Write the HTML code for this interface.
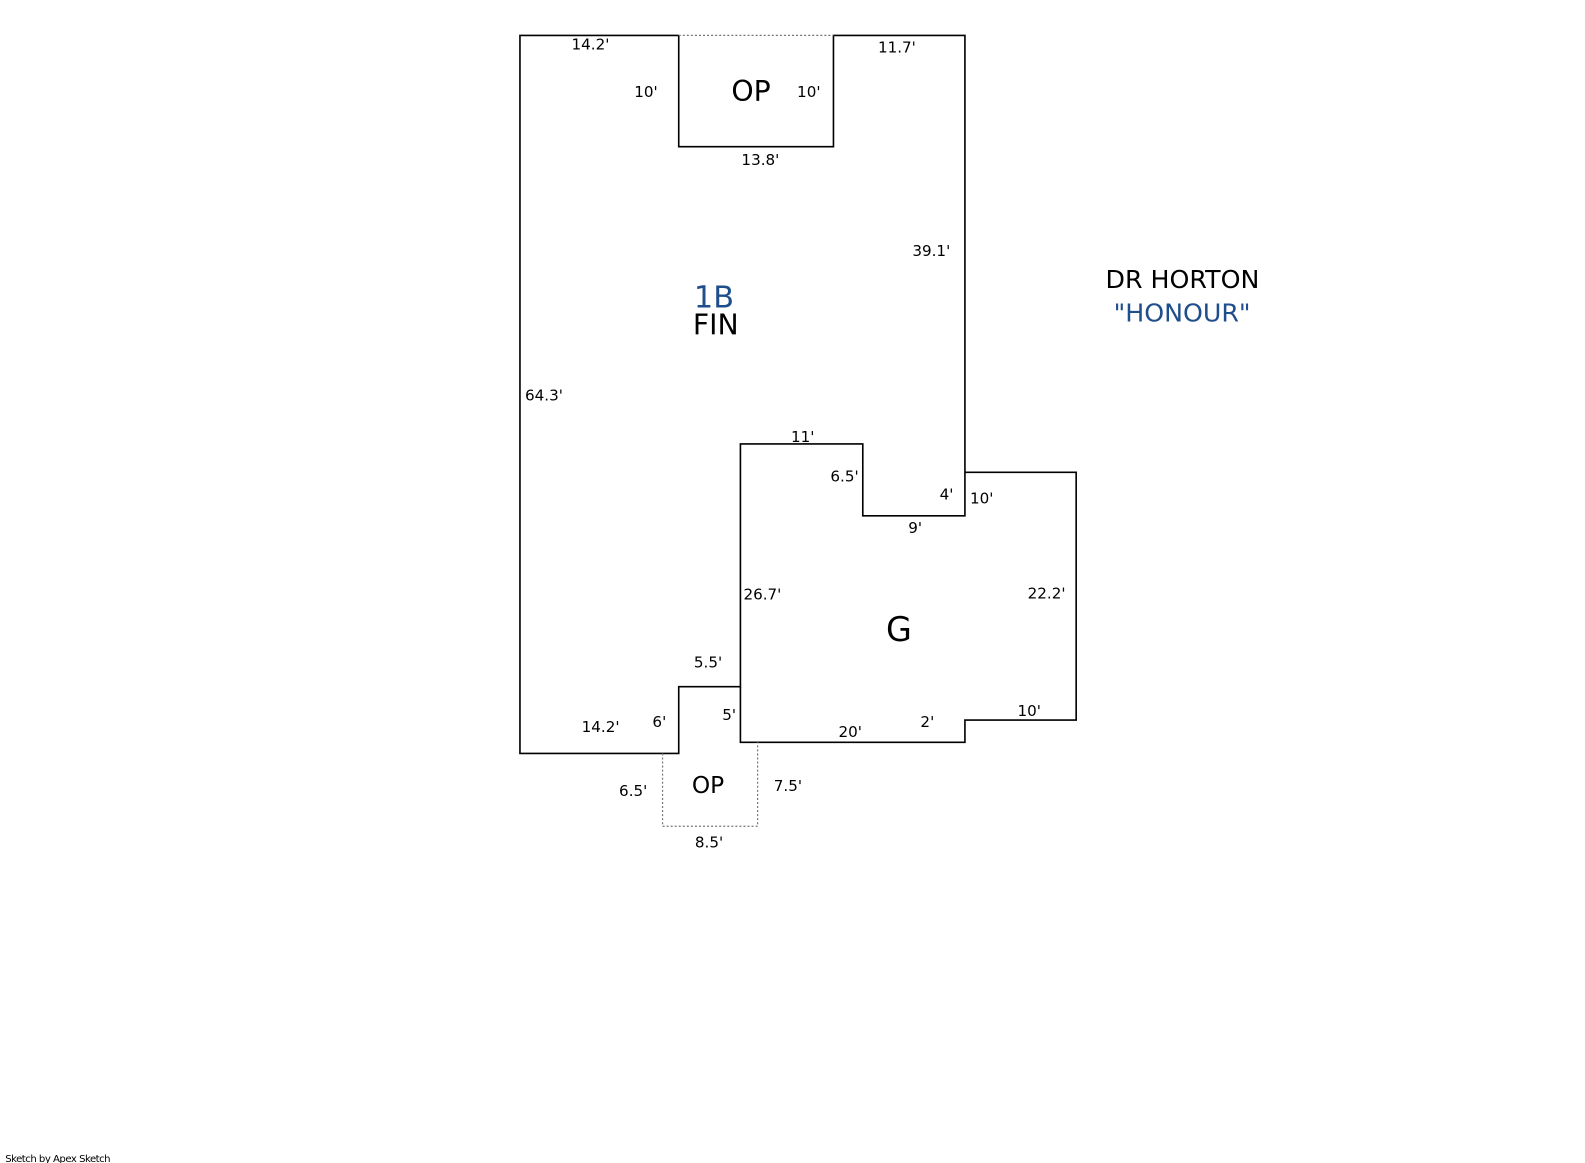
<!DOCTYPE html>
<html><head><meta charset="utf-8"><style>
html,body{margin:0;padding:0;background:#fff;overflow:hidden;}
svg{display:block;}
text{font-family:"DejaVu Sans","Liberation Sans",sans-serif;fill:#000;}
</style></head><body>
<svg width="1585" height="1163" viewBox="0 0 1567 1150" xmlns="http://www.w3.org/2000/svg">
<g fill="none" stroke="#000" stroke-width="1.6">
<polyline points="671,35 514,35 514,745 671,745 671,679 732,679 732,439 853,439 853,510 954,510 954,35 824,35 824,145 671,145 671,35"/>
<polyline points="954,467 1064,467 1064,712 954,712 954,734 732,734 732,679"/>
</g>
<g fill="none" stroke="#777" stroke-width="1.2" stroke-dasharray="2,2">
<line x1="671" y1="35" x2="824" y2="35"/>
<polyline points="655,745 655,817 749,817 749,734"/>
</g>
<g font-size="15">
<text x="565" y="49">14.2'</text>
<text x="868" y="52">11.7'</text>
<text x="627" y="96">10'</text>
<text x="788" y="96">10'</text>
<text x="733" y="163">13.8'</text>
<text x="902" y="253">39.1'</text>
<text x="519" y="396">64.3'</text>
<text x="782" y="437">11'</text>
<text x="821" y="476">6.5'</text>
<text x="929" y="494">4'</text>
<text x="959" y="498">10'</text>
<text x="898" y="527">9'</text>
<text x="735" y="593">26.7'</text>
<text x="1016" y="592">22.2'</text>
<text x="686" y="660">5.5'</text>
<text x="714" y="712">5'</text>
<text x="645" y="719">6'</text>
<text x="575" y="724">14.2'</text>
<text x="829" y="729">20'</text>
<text x="910" y="719">2'</text>
<text x="1006" y="708">10'</text>
<text x="612" y="787">6.5'</text>
<text x="765" y="782">7.5'</text>
<text x="687" y="838">8.5'</text>
</g>
<text x="723" y="100" font-size="28">OP</text>
<text x="684" y="784" font-size="23">OP</text>
<text x="876" y="634" font-size="33">G</text>
<text x="686" y="304" font-size="30" style="fill:#1f4e8c">1B</text>
<text x="685" y="331" font-size="28">FIN</text>
<text x="1093" y="285" font-size="25">DR HORTON</text>
<text x="1101" y="318" font-size="25" style="fill:#1f4e8c">"HONOUR"</text>
<text x="5" y="1149" font-size="10" letter-spacing="-0.5">Sketch by Apex Sketch</text>
</svg>
</body></html>
